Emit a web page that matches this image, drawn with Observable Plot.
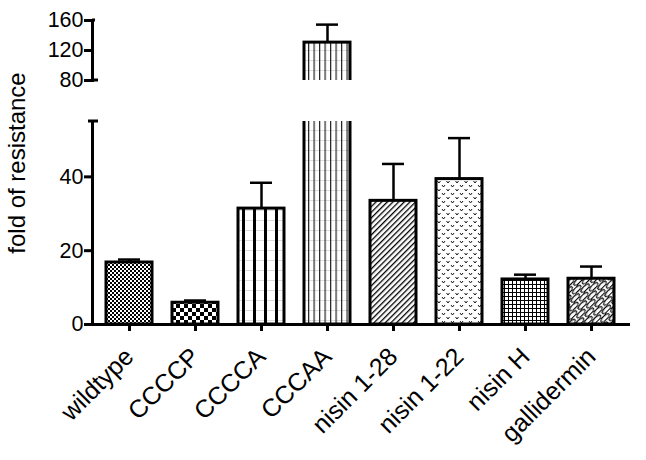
<!DOCTYPE html>
<html>
<head>
<meta charset="utf-8">
<script src="https://cdn.jsdelivr.net/npm/d3@7"></script>
<script src="https://cdn.jsdelivr.net/npm/@observablehq/plot@0.6"></script>
<style>
  body { margin: 0; background: white; }
  #chart { position: relative; width: 646px; height: 460px; }
  #chart svg.upper { position: absolute; left: 0; top: 0; }
</style>
</head>
<body>
<svg width="0" height="0" style="position:absolute">
  <defs>
    <pattern id="pat-0" patternUnits="userSpaceOnUse" width="4" height="4">
      <rect width="4" height="4" fill="white"/>
      <rect x="0" y="0" width="2" height="2" fill="black"/>
      <rect x="2" y="2" width="2" height="2" fill="black"/>
    </pattern>
    <pattern id="pat-1" patternUnits="userSpaceOnUse" width="8" height="8">
      <rect width="8" height="8" fill="white"/>
      <rect x="0" y="0" width="4" height="4" fill="black"/>
      <rect x="4" y="4" width="4" height="4" fill="black"/>
    </pattern>
    <pattern id="pat-2" patternUnits="userSpaceOnUse" width="11" height="10">
      <rect width="11" height="10" fill="white"/>
      <rect x="0" y="0" width="11" height="1" fill="#ddd"/>
      <rect x="0" y="0" width="3" height="10" fill="black"/>
    </pattern>
    <pattern id="pat-3" patternUnits="userSpaceOnUse" width="5.5" height="10">
      <rect width="5.5" height="10" fill="white"/>
      <rect x="0" y="0" width="5.5" height="1" fill="#ddd"/>
      <rect x="0" y="0" width="1.2" height="10" fill="#222"/>
    </pattern>
    <pattern id="pat-4" patternUnits="userSpaceOnUse" width="4" height="4" patternTransform="rotate(45)">
      <rect width="4" height="4" fill="white"/>
      <rect x="0" y="0" width="1.3" height="4" fill="black"/>
    </pattern>
    <pattern id="pat-5" patternUnits="userSpaceOnUse" width="9" height="8">
      <rect width="9" height="8" fill="white"/>
      <path d="M1,1 L2.5,3 L4,1 M5.5,5 L7,7 L8.5,5" fill="none" stroke="black" stroke-width="0.9"/>
    </pattern>
    <pattern id="pat-6" patternUnits="userSpaceOnUse" width="4" height="4">
      <rect width="4" height="4" fill="white"/>
      <rect x="0" y="0" width="4" height="1" fill="black"/>
      <rect x="0" y="0" width="1" height="4" fill="black"/>
    </pattern>
    <pattern id="pat-7" patternUnits="userSpaceOnUse" width="14" height="10" patternTransform="rotate(-45)">
      <rect width="14" height="10" fill="white"/>
      <ellipse cx="7" cy="2.5" rx="5.5" ry="2.2" fill="white" stroke="black" stroke-width="1.2"/>
      <ellipse cx="0" cy="7.5" rx="5.5" ry="2.2" fill="white" stroke="black" stroke-width="1.2"/>
      <ellipse cx="14" cy="7.5" rx="5.5" ry="2.2" fill="white" stroke="black" stroke-width="1.2"/>
    </pattern>
  </defs>
</svg>
<div id="chart"></div>
<script>
// ---- data ----
const categories = ["wildtype", "CCCCP", "CCCCA", "CCCAA", "nisin 1-28", "nisin 1-22", "nisin H", "gallidermin"];
const values = [16.8, 5.9, 31.4, 130.5, 33.5, 39.4, 12.2, 12.4];
const errors = [0.8, 0.6, 7.0, 24.0, 10.0, 11.1, 1.3, 3.3];
const lowerTicks = [0, 20, 40];
const upperTicks = [80, 120, 160];
const lowerDomain = [0, 55];
const upperDomain = [80, 160];
const yTitle = "fold of resistance";

const rows = categories.map((name, i) => ({
  name, value: values[i], err: errors[i], fill: `url(#pat-${i})`
}));

const font = "Arial, 'Liberation Sans', sans-serif";
const xScale = {domain: categories, paddingInner: 0.3, paddingOuter: 0.16};

function dataMarks() {
  return [
    Plot.barY(rows, {x: "name", y: "value", fill: "fill", stroke: "black", strokeWidth: 3, clip: true}),
    Plot.ruleX(rows, {x: "name", y1: "value", y2: d => d.value + d.err, stroke: "black", strokeWidth: 2.5, clip: true}),
    Plot.tickY(rows, {x: "name", y: d => d.value + d.err, stroke: "black", strokeWidth: 2.5, insetLeft: 12, insetRight: 12, clip: true})
  ];
}

const lower = Plot.plot({
  width: 646, height: 460,
  marginLeft: 92, marginRight: 18, marginTop: 121, marginBottom: 136,
  x: xScale,
  y: {domain: lowerDomain},
  color: {type: "identity"},
  style: {fontFamily: font, fontSize: "21px", background: "white", color: "black"},
  marks: [
    ...dataMarks(),
    Plot.frame({anchor: "left", strokeWidth: 3}),
    Plot.frame({anchor: "bottom", strokeWidth: 3}),
    Plot.axisY({ticks: lowerTicks, tickSize: 8, strokeWidth: 3, fontSize: 21, tickPadding: 1, label: null}),
    Plot.axisX({tickSize: 7, strokeWidth: 3, tickRotate: -45, fontSize: 25, tickPadding: 21, label: null}),
    Plot.text([yTitle], {frameAnchor: "left", textAnchor: "middle", rotate: -90, dx: -75, dy: -60, fontSize: 24})
  ]
});

const upper = Plot.plot({
  width: 646, height: 100,
  marginLeft: 92, marginRight: 18, marginTop: 20, marginBottom: 20,
  x: {...xScale, axis: null},
  y: {domain: upperDomain},
  color: {type: "identity"},
  style: {fontFamily: font, fontSize: "21px", background: "transparent", overflow: "visible", color: "black"},
  marks: [
    ...dataMarks(),
    Plot.frame({anchor: "left", strokeWidth: 3}),
    Plot.axisY({ticks: upperTicks, tickSize: 8, strokeWidth: 3, fontSize: 21, tickPadding: 1, label: null})
  ]
});
upper.classList.add("upper");

// enforce label sizes on the text Plot produced
d3.select(lower).selectAll("text")
  .filter(function () { return categories.includes(this.textContent); })
  .style("font-size", "25px");
d3.selectAll([lower, upper]).selectAll("text")
  .filter(function () { return /^\d+$/.test(this.textContent); })
  .style("font-size", "21.5px");

// small caps at the ends of the broken axis, positioned with Plot's own y scales
function addCap(svg, yPix, x0, x1) {
  d3.select(svg).append("line")
    .attr("x1", x0).attr("x2", x1).attr("y1", yPix).attr("y2", yPix)
    .attr("stroke", "black").attr("stroke-width", 3);
}
const yl = lower.scale("y"), yu = upper.scale("y");
addCap(lower, yl.apply(lowerDomain[1]), 88, 98);
addCap(upper, yu.apply(upperDomain[0]), 92, 98);
addCap(upper, yu.apply(upperDomain[1]), 92, 95);

const chart = document.getElementById("chart");
chart.appendChild(lower);
chart.appendChild(upper);
</script>
</body>
</html>
